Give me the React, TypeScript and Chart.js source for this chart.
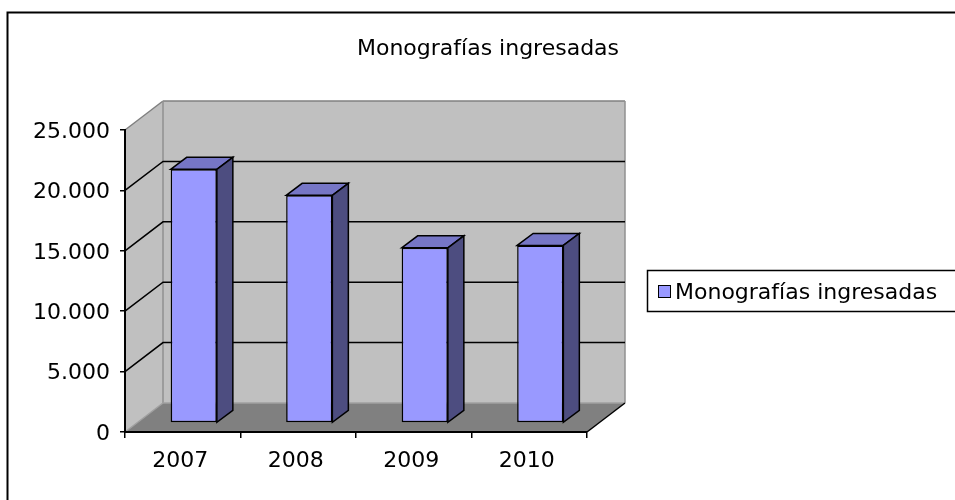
import React, { useEffect, useRef } from 'react';
import { Chart, registerables } from 'chart.js';

Chart.register(...registerables);

const chartTitle = 'Monografías ingresadas';
const seriesLabel = 'Monografías ingresadas';
const categories = ['2007', '2008', '2009', '2010'];
const values = [21000, 18850, 14500, 14700];
const yMin = 0;
const yMax = 25000;
const yStep = 5000;

const FONT = '"DejaVu Sans", sans-serif';
const DEPTH_X = 38;
const DEPTH_Y = -29;
const BAR_FX = 11;
const BAR_FY = -9;
const BAR_DX = 16;
const BAR_DY = -12;
const FRONT = '#9999FF';
const TOP = '#7676C6';
const SIDE = '#4D4D80';

const fmt = (v: number) => String(v).replace(/\B(?=(\d{3})+(?!\d))/g, '.');

const poly = (ctx: CanvasRenderingContext2D, pts: number[][], fill: string | null, stroke: string | null, lw = 1) => {
  ctx.beginPath();
  ctx.moveTo(pts[0][0], pts[0][1]);
  for (let i = 1; i < pts.length; i++) ctx.lineTo(pts[i][0], pts[i][1]);
  ctx.closePath();
  if (fill) {
    ctx.fillStyle = fill;
    ctx.fill();
  }
  if (stroke) {
    ctx.strokeStyle = stroke;
    ctx.lineWidth = lw;
    ctx.stroke();
  }
};

const line = (ctx: CanvasRenderingContext2D, x1: number, y1: number, x2: number, y2: number, color: string, lw: number) => {
  ctx.beginPath();
  ctx.moveTo(x1, y1);
  ctx.lineTo(x2, y2);
  ctx.strokeStyle = color;
  ctx.lineWidth = lw;
  ctx.stroke();
};

const threeD = {
  id: 'threeD',
  beforeDraw(chart: any) {
    const ctx: CanvasRenderingContext2D = chart.ctx;
    const xs = chart.scales.x;
    const ys = chart.scales.y;
    const L = xs.left;
    const R = xs.right;
    const T = ys.getPixelForValue(yMax);
    const B = ys.getPixelForValue(yMin);
    ctx.save();
    ctx.fillStyle = '#fff';
    ctx.fillRect(0, 0, chart.width, chart.height);
    // outer frame
    ctx.strokeStyle = '#000';
    ctx.lineWidth = 2;
    ctx.strokeRect(7.5, 12.5, chart.width + 40, chart.height + 40);

    // side wall
    poly(ctx, [[L, T], [L + DEPTH_X, T + DEPTH_Y], [L + DEPTH_X, B + DEPTH_Y], [L, B]], '#C0C0C0', null);
    // back wall
    poly(ctx, [[L + DEPTH_X, T + DEPTH_Y], [R + DEPTH_X, T + DEPTH_Y], [R + DEPTH_X, B + DEPTH_Y], [L + DEPTH_X, B + DEPTH_Y]], '#C0C0C0', null);
    // floor
    poly(ctx, [[L, B], [R, B], [R + DEPTH_X, B + DEPTH_Y], [L + DEPTH_X, B + DEPTH_Y]], '#808080', null);

    // wall edges (grey)
    line(ctx, L, T, L + DEPTH_X, T + DEPTH_Y, '#808080', 1.5);
    line(ctx, L + DEPTH_X, T + DEPTH_Y, R + DEPTH_X, T + DEPTH_Y, '#808080', 1.5);
    line(ctx, L + DEPTH_X, T + DEPTH_Y, L + DEPTH_X, B + DEPTH_Y, '#909090', 1.5);
    line(ctx, R + DEPTH_X, T + DEPTH_Y, R + DEPTH_X, B + DEPTH_Y, '#909090', 1.5);
    line(ctx, L + DEPTH_X, B + DEPTH_Y, R + DEPTH_X, B + DEPTH_Y, '#A0A0A0', 1.5);
    line(ctx, L, B, L + DEPTH_X, B + DEPTH_Y, '#A0A0A0', 1.5);
    // floor right edge
    line(ctx, R, B, R + DEPTH_X, B + DEPTH_Y, '#000', 1.5);

    // gridlines
    ys.ticks.forEach((t: any) => {
      if (t.value <= yMin || t.value >= yMax) return;
      const y = ys.getPixelForValue(t.value);
      ctx.beginPath();
      ctx.moveTo(L, y);
      ctx.lineTo(L + DEPTH_X, y + DEPTH_Y);
      ctx.lineTo(R + DEPTH_X, y + DEPTH_Y);
      ctx.strokeStyle = '#000';
      ctx.lineWidth = 1.5;
      ctx.stroke();
    });

    // title
    ctx.fillStyle = '#000';
    ctx.font = `22px ${FONT}`;
    ctx.textAlign = 'center';
    ctx.textBaseline = 'alphabetic';
    ctx.fillText(chartTitle, 488, 55);

    // legend
    const ds = chart.data.datasets[0];
    ctx.fillStyle = '#fff';
    ctx.fillRect(647.5, 270.5, 400, 41);
    ctx.strokeStyle = '#000';
    ctx.lineWidth = 1.5;
    ctx.strokeRect(647.5, 270.5, 400, 41);
    ctx.fillStyle = ds.backgroundColor;
    ctx.fillRect(658.5, 285.5, 12, 12);
    ctx.lineWidth = 1;
    ctx.strokeRect(658.5, 285.5, 12, 12);
    ctx.fillStyle = '#000';
    ctx.textAlign = 'left';
    ctx.fillText(ds.label, 675, 299);
    ctx.restore();
  },
  beforeDatasetsDraw(chart: any) {
    chart.ctx.save();
    chart.ctx.translate(BAR_FX, BAR_FY);
  },
  afterDatasetsDraw(chart: any) {
    const ctx: CanvasRenderingContext2D = chart.ctx;
    ctx.restore();
    ctx.save();
    ctx.lineJoin = 'miter';
    const meta = chart.getDatasetMeta(0);
    meta.data.forEach((el: any) => {
      const p = el.getProps(['x', 'y', 'base', 'width'], true);
      const l = p.x - p.width / 2 + BAR_FX;
      const r = p.x + p.width / 2 + BAR_FX;
      const t = p.y + BAR_FY;
      const b = p.base + BAR_FY;
      poly(ctx, [[l, t], [l + BAR_DX, t + BAR_DY], [r + BAR_DX, t + BAR_DY], [r, t]], TOP, '#000', 1.5);
      poly(ctx, [[r, t], [r + BAR_DX, t + BAR_DY], [r + BAR_DX, b + BAR_DY], [r, b]], SIDE, '#000', 1.5);
    });
    ctx.restore();
  },
};

export default function App() {
  const ref = useRef<HTMLCanvasElement | null>(null);
  useEffect(() => {
    if (!ref.current) return;
    const chart = new Chart(ref.current, {
      type: 'bar',
      data: {
        labels: categories,
        datasets: [
          {
            label: seriesLabel,
            data: values,
            backgroundColor: FRONT,
            borderColor: '#000',
            borderWidth: 1.5,
            borderSkipped: false,
            categoryPercentage: 1,
            barPercentage: 0.4,
          },
        ],
      },
      options: {
        responsive: false,
        animation: false,
        events: [],
        layout: { padding: { left: 0, top: 130, right: 368, bottom: 0 } },
        plugins: {
          legend: { display: false },
          title: { display: false },
          tooltip: { enabled: false },
        },
        scales: {
          x: {
            offset: true,
            grid: { offset: true, drawOnChartArea: false, drawTicks: true, tickLength: 6, color: '#000', lineWidth: 1.5 },
            border: { display: true, color: '#000', width: 2 },
            ticks: { color: '#000', font: { family: FONT, size: 22 }, padding: 10, labelOffset: -2.5, maxRotation: 0 },
            afterFit: (s: any) => { s.height = 68; },
          },
          y: {
            min: yMin,
            max: yMax,
            grid: { drawOnChartArea: false, drawTicks: true, tickLength: 5, color: '#000', lineWidth: 1.5 },
            border: { display: true, color: '#000', width: 2 },
            ticks: { stepSize: yStep, color: '#000', font: { family: FONT, size: 22 }, padding: 10, labelOffset: 2, callback: (v: any) => fmt(Number(v)) },
            afterFit: (s: any) => { s.width = 125; },
          },
        },
      },
      plugins: [threeD],
    });
    return () => chart.destroy();
  }, []);
  return (
    <div style={{ position: 'absolute', left: 0, top: 0, width: 955, height: 500 }}>
      <canvas ref={ref} width={955} height={500} style={{ display: 'block', width: 955, height: 500 }} />
    </div>
  );
}
